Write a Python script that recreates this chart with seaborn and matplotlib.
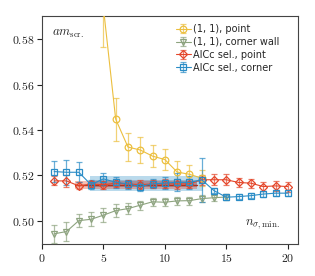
import numpy as np
import matplotlib
matplotlib.use("Agg")
import matplotlib.pyplot as plt
import seaborn as sns

# ---- data ----
x_y11p = [5, 6, 7, 8, 9, 10, 11, 12, 13]
y_y11p = [0.594, 0.5448, 0.5325, 0.5312, 0.5285, 0.5270, 0.5215, 0.5205, 0.5188]
e_y11p = [0.0175, 0.0095, 0.0060, 0.0056, 0.0048, 0.0047, 0.0050, 0.0040, 0.0035]

x_g11c = [1, 2, 3, 4, 5, 6, 7, 8, 9, 10, 11, 12, 13, 14, 15]
y_g11c = [0.4943, 0.4953, 0.5001, 0.5007, 0.5025, 0.5045, 0.5054, 0.5069, 0.5084,
          0.5082, 0.5088, 0.5089, 0.5098, 0.5102, 0.5105]
e_g11c = [0.0040, 0.0040, 0.0030, 0.0030, 0.0030, 0.0028, 0.0025, 0.0020, 0.0018,
          0.0018, 0.0018, 0.0017, 0.0017, 0.0016, 0.0015]

x_rsel = list(range(1, 21))
y_rsel = [0.5176, 0.5176, 0.5154, 0.5162, 0.5159, 0.5166, 0.5162, 0.5160, 0.5162,
          0.5163, 0.5163, 0.5163, 0.5181, 0.5181, 0.5181, 0.5169, 0.5166, 0.5151,
          0.5154, 0.5151]
e_rsel = [0.0020, 0.0025, 0.0015, 0.0015, 0.0018, 0.0018, 0.0018, 0.0018, 0.0018,
          0.0020, 0.0022, 0.0020, 0.0022, 0.0025, 0.0025, 0.0020, 0.0020, 0.0020,
          0.0022, 0.0022]

x_bsel = list(range(1, 21))
y_bsel = [0.5217, 0.5214, 0.5214, 0.5159, 0.5185, 0.5170, 0.5162, 0.5151, 0.5163,
          0.5166, 0.5170, 0.5169, 0.5181, 0.5133, 0.5104, 0.5107, 0.5111, 0.5118,
          0.5122, 0.5122]
e_bsel = [0.0045, 0.0055, 0.0045, 0.0020, 0.0025, 0.0025, 0.0020, 0.0020, 0.0020,
          0.0025, 0.0040, 0.0030, 0.0097, 0.0012, 0.0010, 0.0010, 0.0010, 0.0012,
          0.0012, 0.0012]

# model-averaged bands: (x start, x end, centre, half-width)
red_band = (2.7, 12.6, 0.5158, 0.0017)
blue_band = (3.9, 13.1, 0.5165, 0.0032)

labels = ["(1, 1), point", "(1, 1), corner wall", "AICc sel., point", "AICc sel., corner"]
colors = ["#ECBF3E", "#8DA37F", "#E4462A", "#2A8CC6"]
markers = ["o", "v", "D", "s"]

sns.set_theme(style="ticks")
plt.rcParams["mathtext.fontset"] = "cm"
plt.rcParams["font.family"] = ["DejaVu Sans"]

fig = plt.figure(figsize=(3.15, 2.76), dpi=100)
ax = fig.add_axes([0.133, 0.115, 0.812, 0.827])

# bands
for (x0, x1, c, h), col, a in [(blue_band, colors[3], 0.32), (red_band, colors[2], 0.35)]:
    ax.fill_between([x0, x1], [c - h] * 2, [c + h] * 2, color=col, alpha=a, lw=0, zorder=1)
ax.fill_between([blue_band[0], red_band[1]], [0.5151] * 2, [0.5178] * 2,
                color="#555577", alpha=0.3, lw=0, zorder=1)
sns.lineplot(x=[red_band[0], red_band[1]], y=[red_band[2]] * 2, color="#B0301C",
             lw=1.0, ax=ax, zorder=2)

series = [(x_y11p, y_y11p, e_y11p), (x_g11c, y_g11c, e_g11c),
          (x_rsel, y_rsel, e_rsel), (x_bsel, y_bsel, e_bsel)]
handles = []
for (xs, ys, es), lab, col, m in zip(series, labels, colors, markers):
    ms = 4.2 if m == "D" else 4.8
    h = ax.errorbar(xs, ys, yerr=es, fmt=m + "-", color=col, mfc="none", mec=col,
                    ms=ms, mew=0.9, lw=0.8, elinewidth=0.9, capsize=2.3,
                    capthick=0.8, ecolor=matplotlib.colors.to_rgba(col, 0.7),
                    label=lab, zorder=3)
    handles.append(h)

ax.set_xlim(0, 20.8)
ax.set_ylim(0.4897, 0.5902)
ax.set_xticks([0, 5, 10, 15, 20])
ax.set_xticklabels([f"${v}$" for v in [0, 5, 10, 15, 20]])
yt = [0.50, 0.52, 0.54, 0.56, 0.58]
ax.set_yticks(yt)
ax.set_yticklabels([f"${v:.2f}$" for v in yt])
ax.tick_params(labelsize=8.5, length=3.5, width=0.8, colors="#222222", pad=2)
for s in ax.spines.values():
    s.set_linewidth(0.8)
    s.set_color("#444444")

ax.text(0.04, 0.95, r"$am_{\rm scr.}$", transform=ax.transAxes, fontsize=9,
        ha="left", va="top")
ax.text(0.86, 0.06, r"$n_{\sigma,\rm min.}$", transform=ax.transAxes, fontsize=9,
        ha="center", va="bottom")

leg = ax.legend(handles=handles, labels=labels, loc="upper left",
                bbox_to_anchor=(0.525, 0.965), frameon=False, fontsize=7,
                handlelength=1.5, handletextpad=0.2, labelspacing=0.3,
                borderaxespad=0.0, borderpad=0.0)

fig.savefig("out.png", dpi=100)
